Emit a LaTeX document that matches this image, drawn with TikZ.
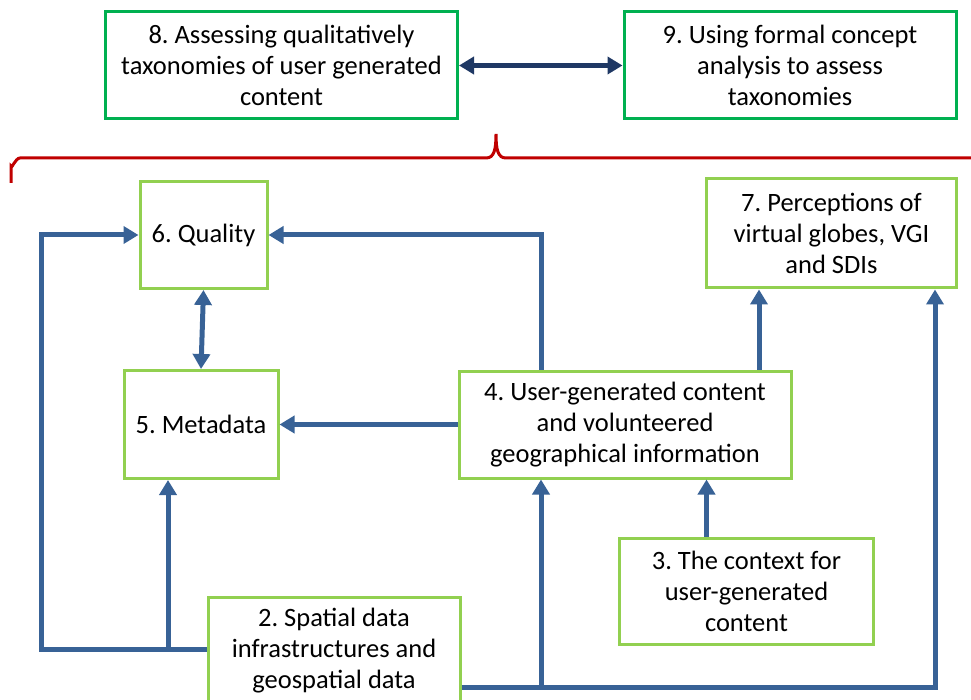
\documentclass[tikz,border=0pt]{standalone}
\usepackage{fontspec}
\setmainfont{Carlito}
\usepackage{xcolor}
\usetikzlibrary{arrows.meta,calc}
\frenchspacing

\definecolor{darkgreen}{RGB}{0,176,80}
\definecolor{lightgreen}{RGB}{146,208,80}
\definecolor{linkblue}{RGB}{56,98,150}
\definecolor{navy}{RGB}{31,56,100}
\definecolor{bracered}{RGB}{192,0,0}

\begin{document}
\begin{tikzpicture}[x=1pt, y=-1pt,
		box/.style={draw=lightgreen, line width=3pt, fill=white, align=center, inner sep=2pt,
			font=\fontsize{26.5}{31}\selectfont},
		topbox/.style={box, draw=darkgreen},
		flow/.style={draw=linkblue, line width=5pt, -{Triangle[length=15pt,width=17pt]}},
		brace/.style={draw=bracered, line width=3pt}]
				\useasboundingbox (0,0) rectangle (971,700);
				
				% Top row
				\node[topbox, minimum width=352pt, minimum height=107pt] (n8) at (281.5,65.5)
					{8. Assessing qualitatively\\taxonomies of user generated\\content};
				\node[topbox, minimum width=332pt, minimum height=107pt] (n9) at (790,65.5)
					{9. Using formal concept\\analysis to assess\\taxonomies};
				\draw[draw=navy, line width=5pt, {Triangle[length=15pt,width=17pt]}-{Triangle[length=15pt,width=17pt]}] (n8.east) -- (n9.west);
				
				% Brace
				\draw[brace] (11,183) -- (11,166) to[out=-90,in=180] (20,158) -- (486,158)
					.. controls (494,158) and (496,150) .. (496,134)
					.. controls (496,150) and (498,158) .. (506,158) -- (975,158);
				
				% Boxes
				\node[box, minimum width=127pt, minimum height=107pt] (n6) at (203.5,235) {6. Quality};
				\node[box, minimum width=250pt, minimum height=109pt] (n7) at (831.5,233.5)
					{7. Perceptions of\\virtual globes, VGI\\and SDIs};
				\node[box, minimum width=154pt, minimum height=108pt] (n5) at (201,424.5) {5. Metadata};
				\node[box, minimum width=332pt, minimum height=107pt] (n4) at (625,424.5)
					{4. User-generated content\\and volunteered\\geographical information};
				\node[box, minimum width=254pt, minimum height=106pt] (n3) at (746.5,591)
					{3. The context for\\user-generated\\content};
				\node[box, minimum width=252pt, minimum height=108pt] (n2) at (334,651)
					{2. Spatial data\\infrastructures and\\geospatial data};
				
				% Links
				\coordinate (lft) at (41,649);
				\coordinate (rgt) at (935,687);
				\draw[flow] (n2.west |- lft) -- (lft) |- (n6.west);
				\draw[flow] ([xshift=-33pt]n5.south |- lft) -- ([xshift=-33pt]n5.south);
				\draw[flow] (n2.east |- rgt) -- (rgt) -- (n7.south -| rgt);
				\draw[flow] ([xshift=-84pt]n4.south |- rgt) -- ([xshift=-84pt]n4.south);
				\draw[flow] ([xshift=-40pt]n3.north) -- ([xshift=-40pt]n3.north |- n4.south);
				\draw[flow] (n4.west) -- (n5.east);
				\draw[flow] ([xshift=-84pt]n4.north) |- (n6.east);
				\draw[flow] ([xshift=134pt]n4.north) -- ([xshift=134pt]n4.north |- n7.south);
				\draw[flow, {Triangle[length=15pt,width=17pt]}-{Triangle[length=15pt,width=17pt]}] (n6.south) -- (n5.north);
			\end{tikzpicture}
\end{document}
